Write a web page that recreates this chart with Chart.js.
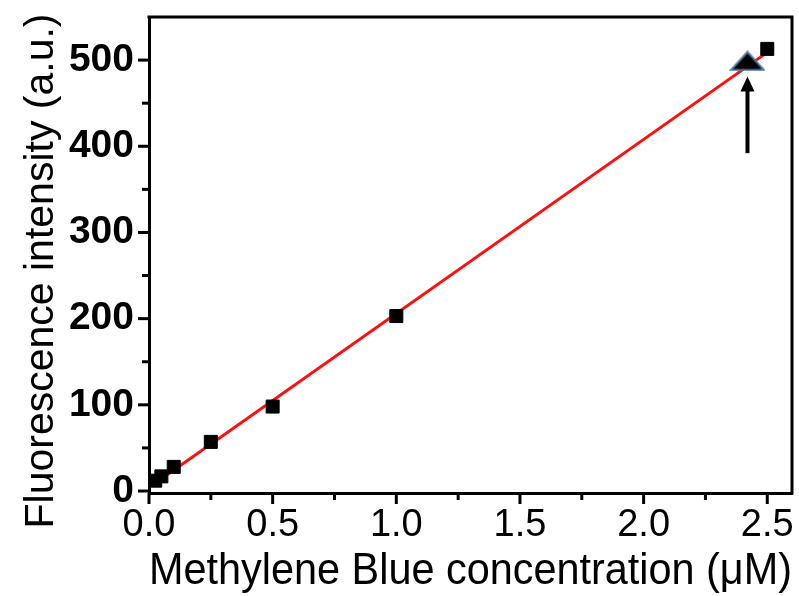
<!DOCTYPE html>
<html>
<head>
<meta charset="utf-8">
<style>
  html, body { margin: 0; padding: 0; background: #ffffff; overflow: hidden; }
  canvas { display: block; }
</style>
<script src="https://cdn.jsdelivr.net/npm/chart.js@4/dist/chart.umd.min.js"></script>
</head>
<body>
<canvas id="c" width="799" height="596"></canvas>
<script>
// Calibration points: methylene blue concentration (µM) vs fluorescence (a.u.)
const concentration = [0.025, 0.05, 0.1, 0.25, 0.5, 1.0, 2.5];
const intensity     = [12, 17, 28, 57, 98, 203, 513];

// Sample measured against the calibration
const sampleConc = [2.42];
const sampleIntensity = [499];

// Linear fit end points
const fitConc = [0.015, 2.52];
const fitIntensity = [7, 513];

// Arrow marking the sample (x, from y, to y)
const arrowConc = 2.42;
const arrowFrom = 392;
const arrowTo = 481;

// Axis ticks
const xMajorTicks = [0, 0.5, 1.0, 1.5, 2.0, 2.5];
const xMinorTicks = [0.25, 0.75, 1.25, 1.75, 2.25];
const yMajorTicks = [0, 100, 200, 300, 400, 500];
const yMinorTicks = [50, 150, 250, 350, 450];

const xTitle = 'Methylene Blue concentration (\u03BCM)';
const yTitle = 'Fluorescence intensity (a.u.)';

const FONT = '"Liberation Sans", Arial, Helvetica, sans-serif';

// Flattened triangle marker
function makeTriangle() {
  const w = 36, h = 21;
  const cv = document.createElement('canvas');
  cv.width = w; cv.height = h;
  const g = cv.getContext('2d');
  g.beginPath();
  g.moveTo(w / 2, 1.5);
  g.lineTo(w - 1.5, h - 1.5);
  g.lineTo(1.5, h - 1.5);
  g.closePath();
  g.fillStyle = '#000000';
  g.fill();
  g.lineWidth = 2;
  g.strokeStyle = '#4a78a0';
  g.stroke();
  return cv;
}

const toXY = (xs, ys) => xs.map((x, i) => ({ x: x, y: ys[i] }));

// Axis boxes keep a fixed size; tick labels may overhang the plot edges
const noPadding = () => ({ left: 0, top: 0, right: 0, bottom: 0 });

// Frame, tick marks, y title and arrow
const decorations = {
  id: 'decorations',
  afterDatasetsDraw(chart) {
    const { ctx, chartArea: a, scales } = chart;
    const xs = scales.x, ys = scales.y;
    ctx.save();
    ctx.strokeStyle = '#000';
    ctx.lineCap = 'butt';

    // top and right frame lines
    ctx.lineWidth = 3;
    ctx.beginPath();
    ctx.moveTo(a.left - 1.5, a.top);
    ctx.lineTo(a.right, a.top);
    ctx.lineTo(a.right, a.bottom + 1.5);
    ctx.stroke();

    // x ticks (outward)
    const tick = (vals, len, w) => {
      ctx.lineWidth = w;
      vals.forEach(v => {
        const px = xs.getPixelForValue(v);
        ctx.beginPath();
        ctx.moveTo(px, a.bottom);
        ctx.lineTo(px, a.bottom + len);
        ctx.stroke();
      });
    };
    tick(xMajorTicks, 11, 3);
    tick(xMinorTicks, 7, 3);

    // y ticks (outward)
    const ytick = (vals, len, w) => {
      ctx.lineWidth = w;
      vals.forEach(v => {
        const py = ys.getPixelForValue(v);
        ctx.beginPath();
        ctx.moveTo(a.left, py);
        ctx.lineTo(a.left - len, py);
        ctx.stroke();
      });
    };
    ytick(yMajorTicks, 11, 3);
    ytick(yMinorTicks, 7, 3);

    // arrow
    const ax = xs.getPixelForValue(arrowConc);
    const y0 = ys.getPixelForValue(arrowFrom);
    const y1 = ys.getPixelForValue(arrowTo);
    ctx.lineWidth = 4;
    ctx.beginPath();
    ctx.moveTo(ax, y0);
    ctx.lineTo(ax, y1 + 12);
    ctx.stroke();
    ctx.fillStyle = '#000';
    ctx.beginPath();
    ctx.moveTo(ax, y1);
    ctx.lineTo(ax + 7, y1 + 15);
    ctx.lineTo(ax - 7, y1 + 15);
    ctx.closePath();
    ctx.fill();

    // y axis title
    ctx.fillStyle = '#000';
    ctx.font = '41px ' + FONT;
    ctx.textAlign = 'center';
    ctx.textBaseline = 'middle';
    ctx.translate(42, 271);
    ctx.rotate(-Math.PI / 2);
    ctx.fillText(yTitle, 0, 0);
    ctx.restore();
  }
};

new Chart(document.getElementById('c'), {
  type: 'scatter',
  data: {
    datasets: [
      {
        label: 'Sample',
        data: toXY(sampleConc, sampleIntensity),
        pointStyle: makeTriangle(),
        pointRadius: 18,
        order: 1
      },
      {
        label: 'Standards',
        data: toXY(concentration, intensity),
        pointStyle: 'rect',
        pointRadius: 9.2,
        pointBorderWidth: 1,
        backgroundColor: '#000',
        borderColor: '#000',
        order: 2
      },
      {
        label: 'Linear fit',
        data: toXY(fitConc, fitIntensity),
        showLine: true,
        pointRadius: 0,
        borderColor: '#ff1010',
        borderWidth: 3,
        order: 3
      }
    ]
  },
  options: {
    responsive: false,
    devicePixelRatio: 1,
    animation: false,
    layout: { autoPadding: false, padding: { top: 17, right: 7, left: 0, bottom: 0 } },
    plugins: { legend: { display: false }, tooltip: { enabled: false } },
    scales: {
      x: {
        type: 'linear',
        min: 0,
        max: 2.6,
        afterFit(s) { s.height = 103; s.paddingLeft = 0; s.paddingRight = 0; s.getPadding = noPadding; },
        afterBuildTicks(s) { s.ticks = xMajorTicks.map(v => ({ value: v })); },
        grid: { display: false, drawTicks: false },
        border: { display: true, color: '#000', width: 3 },
        ticks: {
          padding: 10,
          color: '#000',
          font: { family: FONT, size: 38 },
          callback: v => Number(v).toFixed(1)
        },
        title: {
          display: true,
          text: xTitle,
          color: '#000',
          font: { family: FONT, size: 44 },
          padding: { top: 0, bottom: -2 }
        }
      },
      y: {
        type: 'linear',
        min: -2.3,
        max: 550,
        afterFit(s) { s.width = 149; s.paddingTop = 0; s.paddingBottom = 0; s.getPadding = noPadding; },
        afterBuildTicks(s) { s.ticks = yMajorTicks.map(v => ({ value: v })); },
        grid: { display: false, drawTicks: false },
        border: { display: true, color: '#000', width: 3 },
        ticks: {
          padding: 15,
          color: '#000',
          font: { family: FONT, size: 39, weight: 'bold' },
          callback: v => String(v)
        }
      }
    }
  },
  plugins: [decorations]
});
</script>
</body>
</html>
